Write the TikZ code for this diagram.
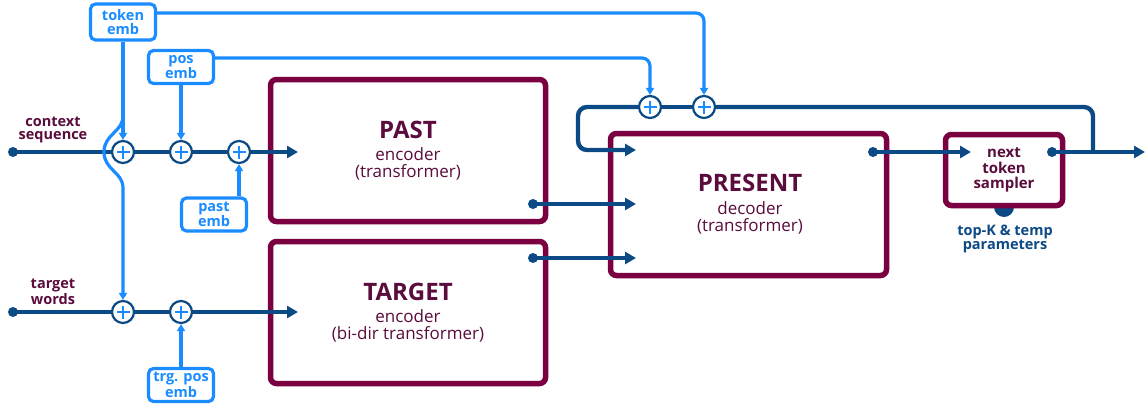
\documentclass[tikz,border=0pt]{standalone}
\usepackage{fontspec}
\setmainfont{Open Sans}
\usetikzlibrary{arrows.meta,calc}
\definecolor{lblue}{HTML}{1A8CFF}
\definecolor{navy}{HTML}{0B4A85}
\definecolor{maroon}{HTML}{7B0041}
\definecolor{mtext}{HTML}{5A0C3C}
\begin{document}
\begin{tikzpicture}[x=1pt,y=-1pt,
  embbox/.style={draw=lblue, line width=3.2pt, rounded corners=5pt, fill=white, text=lblue,
    font=\bfseries\fontsize{14.5}{13.5}\selectfont, align=center, inner sep=0pt,
    minimum width=65pt, minimum height=33pt},
  bigbox/.style={draw=maroon, line width=5.5pt, rounded corners=6pt, fill=white, text=mtext,
    align=center, inner sep=0pt, minimum width=275pt, minimum height=142pt},
  plusnode/.style={circle, draw=navy, line width=2.2pt, fill=white, minimum size=22pt, inner sep=0pt,
    path picture={\draw[lblue, line width=2.8pt]
      ([xshift=-6.5pt]path picture bounding box.center) -- ([xshift=6.5pt]path picture bounding box.center)
      ([yshift=-6.5pt]path picture bounding box.center) -- ([yshift=6.5pt]path picture bounding box.center);}},
  navyline/.style={draw=navy, line width=4.4pt},
  navyarrow/.style={navyline, -{Triangle[length=11pt,width=12pt]}},
  bluearrow/.style={draw=lblue, line width=3.2pt, -{Triangle[length=7pt,width=8pt]}},
  blueline/.style={draw=lblue, line width=3.2pt},
  lbl/.style={text=mtext, font=\bfseries\fontsize{14.5}{13.5}\selectfont, align=center, inner sep=0pt},
  big/.style={font=\bfseries\fontsize{24}{26}\selectfont},
  sub/.style={font=\fontsize{17}{17.5}\selectfont}
]
\useasboundingbox (0,0) rectangle (1146,410);

% embedding boxes
\node[embbox, minimum width=65pt, minimum height=36pt] (tok) at (123,22) {token\\emb};
\node[embbox] (pos) at (181,67) {pos\\emb};
\node[embbox] (pastemb) at (214,214.5) {past\\emb};
\node[embbox] (trg) at (181,385) {trg. pos\\emb};

% main boxes
\node[bigbox] (PAST) at (408,150.5) {};
\node[text=mtext, big] at (408,130) {PAST};
\node[text=mtext, sub, align=center] at (408,164) {encoder\\(transformer)};
\node[bigbox] (TARGET) at (408,312.5) {};
\node[text=mtext, big] at (408,292) {TARGET};
\node[text=mtext, sub, align=center] at (408,326) {encoder\\(bi-dir transformer)};
\node[bigbox, minimum width=276pt] (PRESENT) at (748.5,204.5) {};
\node[text=mtext, big] at (750,183) {PRESENT};
\node[text=mtext, sub, align=center] at (750,218) {decoder\\(transformer)};

% sampler
\fill[navy] (1004,207) circle (10pt);
\node[bigbox, minimum width=117pt, minimum height=71pt, font=\bfseries\fontsize{15}{15.5}\selectfont] (samp) at (1004,170) {next\\token\\sampler};

% labels
\node[lbl] (lctx) at (53,130) {context\\sequence};
\node[lbl] (ltw) at (53,292) {target\\words};
\node[lbl, text=navy] (ltop) at (1005,239) {top-K \& temp\\parameters};

% coordinates
\coordinate (cs) at (13,152);
\coordinate (tw) at (13,312);
\coordinate (pastin) at (298,152);
\coordinate (targin) at (298,312);
\coordinate (pastout) at (533,204);
\coordinate (targout) at (533,258);
\coordinate (presin1) at (636,150);
\coordinate (presin2) at (636,204);
\coordinate (presin3) at (636,258);
\coordinate (presout) at (873,152);
\coordinate (sampin) at (971,152);
\coordinate (sampout) at (1052,152);
\coordinate (junc) at (1093,152);
\coordinate (outend) at (1145,152);
\coordinate (lx) at (578,0);
\coordinate (bA) at (123,116);

% plus nodes
\node[plusnode] (p1) at (123,152) {};
\node[plusnode] (p2) at (181,152) {};
\node[plusnode] (p3) at (239,152) {};
\node[plusnode] (t1) at (123,312) {};
\node[plusnode] (t2) at (181,312) {};
\node[plusnode] (q1) at (650,107) {};
\node[plusnode] (q2) at (704,107) {};

% navy connectors
\path[navyline] (cs) -- (p1) -- (p2) -- (p3);
\path[navyarrow] (p3) -- (pastin);
\path[navyline] (tw) -- (t1) -- (t2);
\path[navyarrow] (t2) -- (targin);
\path[navyarrow] (pastout) -- (presin2);
\path[navyarrow] (targout) -- (presin3);
\path[navyarrow] (presout) -- (sampin);
\path[navyarrow] (sampout) -- (outend);
\path[navyline, rounded corners=9pt] (junc) |- (q2);
\path[navyline] (q2) -- (q1);
\path[navyarrow, rounded corners=9pt] (q1) -- (q1 -| lx) |- (presin1);
\foreach \c in {cs,tw,pastout,targout,presout,sampout} \fill[navy] (\c) circle (5pt);

% blue connectors
\path[bluearrow] (tok) -- (p1);
\path[bluearrow] (bA) .. controls (123,132) and (104,134) .. (104,152)
   .. controls (104,170) and (123,172) .. (123,188) -- (t1);
\path[bluearrow] (pos) -- (p2);
\path[bluearrow] (pastemb.north -| p3) -- (p3);
\path[bluearrow] (trg) -- (t2);
\path[bluearrow, rounded corners=8pt] (tok.east |- 0,13) -| (q2);
\path[bluearrow, rounded corners=8pt] (pos.east |- 0,58) -| (q1);
\end{tikzpicture}
\end{document}
